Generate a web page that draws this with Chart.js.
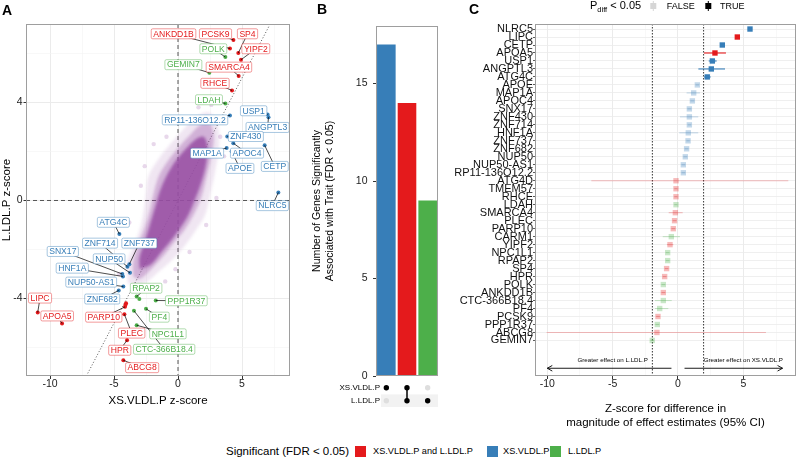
<!DOCTYPE html>
<html lang="en">
<head>
<meta charset="UTF-8">
<title>XS.VLDL.P and L.LDL.P gene associations</title>
<script src="https://cdn.jsdelivr.net/npm/chart.js"></script>
<style>
  body { margin: 0; background: #fff; font-family: 'Liberation Sans', Arial, sans-serif; }
  #fig { position: relative; width: 800px; height: 460px; overflow: hidden; background: #fff; }
  .panel { position: absolute; }
  .tag { position: absolute; font-weight: bold; font-size: 14px; line-height: 14px; color: #000; }
  .legend { position: absolute; left: 0; top: 444px; width: 800px; height: 14px; }
  .legend span { position: absolute; white-space: nowrap; line-height: 14px; color: #000; }
  .legend .key { width: 11px; height: 11px; top: 1.5px; }
</style>
</head>
<body>
<div id="fig">
  <div class="panel" style="left:0;top:0;width:300px;height:440px"><canvas id="chartA"></canvas></div>
  <div class="panel" style="left:300px;top:0;width:140px;height:415px"><canvas id="chartB"></canvas></div>
  <div class="panel" style="left:440px;top:0;width:360px;height:440px"><canvas id="chartC"></canvas></div>
  <div class="tag" style="left:2px;top:3px">A</div>
  <div class="tag" style="left:317px;top:2px">B</div>
  <div class="tag" style="left:469px;top:2px">C</div>
  <div class="legend">
    <span style="left:226px;font-size:11.5px">Significant (FDR &lt; 0.05)</span>
    <span class="key" style="left:355px;background:#E41A1C"></span>
    <span style="left:373px;font-size:9.2px">XS.VLDL.P and L.LDL.P</span>
    <span class="key" style="left:487px;background:#377EB8"></span>
    <span style="left:503px;font-size:9.2px">XS.VLDL.P</span>
    <span class="key" style="left:550px;background:#4DAF4A"></span>
    <span style="left:568px;font-size:9.2px">L.LDL.P</span>
  </div>
</div>

<script>
// ---- panel A: z-scores of the significant genes ----
const genesA = ['ANKDD1B','PCSK9','SP4','YIPF2','POLK','SMARCA4','GEMIN7','RHCE','LDAH','RP11-136O12.2',
  'USP1','ANGPTL3','ZNF430','APOC4','MAP1A','APOE','CETP','NLRC5','ATG4C','ZNF714',
  'ZNF737','SNX17','NUP50','HNF1A','NUP50-AS1','ZNF682','RPAP2','CARM1','PPP1R37','PF4',
  'CTC-366B18.4','NPC1L1','LIPC','APOA5','PARP10','PLEC','TMEM57','ATG4D','HPR','ABCG8'];
const xsZ = [4.06,4.33,4.71,4.92,3.70,4.74,2.45,4.22,3.70,4.06,
  7.00,7.07,3.85,4.32,3.80,4.19,6.77,7.84,-4.58,-3.95,
  -3.80,-4.35,-3.75,-4.30,-4.27,-4.63,-3.23,-3.02,-1.74,-2.50,
  -3.44,-3.23,-10.96,-9.06,-4.14,-4.19,-4.06,-4.10,-3.98,-4.27];
const lZ = [6.20,6.55,6.02,5.74,5.85,5.08,5.21,4.49,3.96,3.47,
  3.51,3.40,2.61,2.34,2.14,2.00,2.25,0.33,-1.37,-2.70,
  -2.60,-3.00,-2.95,-3.10,-3.51,-3.67,-3.92,-4.02,-4.08,-4.42,
  -4.50,-5.09,-4.57,-5.02,-4.34,-4.64,-4.19,-4.25,-5.70,-6.52];
const groupA = ['both','both','both','both','ldl','both','ldl','both','ldl','xs',
  'xs','xs','xs','xs','xs','xs','xs','xs','xs','xs',
  'xs','xs','xs','xs','xs','xs','ldl','ldl','ldl','ldl',
  'ldl','ldl','both','both','both','both','both','both','both','both'];
// where the repelled labels sit (null = no label)
const labelX = [-0.35,2.93,5.43,6.08,2.76,3.98,0.42,2.89,2.42,1.33,
  5.91,7.00,5.30,5.39,2.27,4.84,7.56,7.37,-5.05,-6.09,
  -3.02,-9.00,-5.38,-8.26,-6.78,-5.92,-2.49,null,0.65,-1.46,
  -1.08,-0.79,-10.78,-9.44,-5.80,-3.62,null,null,-4.55,-2.80];
const labelY = [6.80,6.80,6.80,6.19,6.19,5.44,5.54,4.78,4.11,3.29,
  3.66,2.98,2.61,1.93,1.93,1.31,1.39,-0.21,-0.89,-1.74,
  -1.74,-2.08,-2.38,-2.76,-3.33,-4.02,-3.58,null,-4.09,-4.76,
  -6.07,-5.44,-3.98,-4.71,-4.76,-5.41,null,null,-6.11,-6.82];
// background cloud of all other genes, outlined by eye
const cloudOuterX = [-3.9,-4.0,-3.5,-3.0,-2.7,-2.5,-2.3,-1.5,-0.6,0.4,1.4,2.4,3.1,3.2,2.9,2.5,2.1,1.4,0.6,-0.4,-1.5,-2.7];
const cloudOuterY = [-3.4,-2.6,-1.9,-1.2,-0.5,0.3,1.0,1.7,2.3,2.9,3.4,3.6,3.1,2.2,1.2,0.2,-0.6,-1.2,-1.8,-2.4,-2.9,-3.4];
const cloudMidX = [-3.5,-3.5,-3.1,-2.6,-2.2,-1.9,-1.5,-0.8,0.1,1.0,1.8,2.5,2.8,2.6,2.2,1.8,1.2,0.5,-0.3,-1.2,-2.1,-3.0];
const cloudMidY = [-3.1,-2.5,-1.8,-1.1,-0.4,0.3,1.0,1.6,2.2,2.7,3.1,3.1,2.6,1.8,0.9,0.1,-0.6,-1.2,-1.7,-2.3,-2.8,-3.2];
const cloudCoreX = [-3.0,-3.0,-2.6,-2.2,-1.8,-1.4,-0.9,-0.2,0.6,1.4,2.0,2.3,2.2,1.8,1.3,0.8,0.2,-0.5,-1.3,-2.1];
const cloudCoreY = [-2.8,-2.3,-1.7,-1.0,-0.3,0.4,1.0,1.6,2.1,2.5,2.6,2.2,1.5,0.7,0.0,-0.6,-1.1,-1.6,-2.1,-2.6];
const strayX = [-4.3,-3.8,-2.9,-2.6,-1.9,-0.9,0.3,1.6,2.6,3.3,3.0,2.2,0.9,-0.2,-1.0,-3.3,3.6,-4.6];
const strayY = [-2.3,-0.9,0.6,1.4,2.3,2.6,3.3,3.8,3.9,2.6,0.1,-1.0,-2.1,-2.8,-3.3,-3.7,1.8,-3.0];
const xTicksA = [-10,-7.5,-5,-2.5,0,2.5,5,7.5];
const yTicksA = [-6,-4,-2,0,2,4,6];

// ---- panel B: counts per intersection ----
const barNames = ['XS.VLDL.P','XS.VLDL.P and L.LDL.P','L.LDL.P'];
const barCounts = [17,14,9];
const barGroups = ['xs','both','ldl'];
const setNames = ['XS.VLDL.P','L.LDL.P'];
const inXS = [1,1,0];
const inL = [0,1,1];
const yTicksB = [0,5,10,15];

// ---- panel C: z-score for difference ----
const genesC = ['NLRC5','LIPC','CETP','APOA5','USP1','ANGPTL3','ATG4C','APOE','MAP1A','APOC4',
  'SNX17','ZNF430','ZNF714','HNF1A','ZNF737','ZNF682','NUP50','NUP50-AS1','RP11-136O12.2','ATG4D',
  'TMEM57','RHCE','LDAH','SMARCA4','PLEC','PARP10','CARM1','YIPF2','NPC1L1','RPAP2',
  'SP4','HPR','POLK','ANKDD1B','CTC-366B18.4','PF4','PCSK9','PPP1R37','ABCG8','GEMIN7'];
const zDiff = [5.51,4.54,3.39,2.83,2.63,2.55,2.24,1.48,1.20,1.10,
  0.87,0.87,0.87,0.79,0.77,0.66,0.56,0.41,0.41,-0.15,
  -0.15,-0.15,-0.15,-0.20,-0.26,-0.36,-0.51,-0.61,-0.79,-0.79,
  -0.87,-1.02,-1.12,-1.12,-1.12,-1.40,-1.53,-1.58,-1.61,-1.97];
const ciLo = [5.35,4.40,3.25,1.99,2.35,1.56,2.00,1.35,0.66,0.95,
  0.72,0.15,0.75,0.10,0.65,0.52,0.42,0.27,0.27,-6.63,
  -0.28,-0.28,-0.28,-0.71,-0.40,-0.50,-1.17,-0.85,-0.93,-0.93,
  -1.00,-1.16,-1.26,-1.26,-1.76,-1.76,-1.67,-1.72,-10.05,-2.10];
const ciHi = [5.67,4.68,3.53,3.67,2.96,3.60,2.50,1.61,1.68,1.25,
  1.02,1.55,1.00,1.55,0.90,0.80,0.70,0.55,0.55,8.44,
  -0.02,-0.02,-0.02,0.36,-0.12,-0.22,0.15,-0.35,-0.65,-0.65,
  -0.74,-0.88,-0.98,-0.98,-0.48,-0.74,-1.39,-1.44,6.73,-1.84];
const groupC = ['xs','both','xs','both','xs','xs','xs','xs','xs','xs',
  'xs','xs','xs','xs','xs','xs','xs','xs','xs','both',
  'both','both','ldl','both','both','both','ldl','both','ldl','ldl',
  'both','both','ldl','both','ldl','ldl','both','ldl','both','ldl'];
const sigC = genesC.map((g, i) => i < 7);
const xTicksC = [-10,-7.5,-5,-2.5,0,2.5,5,7.5];
const zCrit = 1.96;

const palette = { both: '#E41A1C', xs: '#377EB8', ldl: '#4DAF4A' };
const PURPLE = '#984EA3';
const FONT = "'Liberation Sans', Arial, Helvetica, sans-serif";

function fade(hex, a) {
  const n = parseInt(hex.slice(1), 16);
  return `rgba(${n >> 16},${(n >> 8) & 255},${n & 255},${a})`;
}
const pts = (xs, ys) => xs.map((x, i) => ({ x, y: ys[i] }));
const closed = (xs, ys) => { const p = pts(xs, ys); p.push(p[0]); return p; };

Chart.defaults.font.family = FONT;
Chart.defaults.color = '#222';
Chart.defaults.animation = false;
Chart.defaults.plugins.legend.display = false;
Chart.defaults.plugins.tooltip.enabled = false;

const framePlugin = {
  id: 'frame',
  afterDraw(chart) {
    const { ctx, chartArea: a } = chart;
    ctx.save();
    ctx.strokeStyle = '#9E9E9E';
    ctx.lineWidth = 1;
    ctx.strokeRect(a.left + 0.5, a.top + 0.5, a.right - a.left - 1, a.bottom - a.top - 1);
    ctx.restore();
  }
};

// minor grid lines get no label and no tick mark
function gridFor(isMajor) {
  return {
    color: c => (c.tick && isMajor(c.tick.value)) ? '#EBEBEB' : '#F3F3F3',
    lineWidth: c => (c.tick && isMajor(c.tick.value)) ? 1 : 0.6,
    tickColor: c => (c.tick && isMajor(c.tick.value)) ? '#333' : 'rgba(0,0,0,0)',
    tickLength: 3
  };
}
const major5 = v => v % 5 === 0;
const major4 = v => v % 4 === 0;

// ---------------- A ----------------
const refLinesA = {
  id: 'refLinesA',
  beforeDatasetsDraw(chart) {
    const { ctx, chartArea: a, scales: { x, y } } = chart;
    ctx.save();
    ctx.beginPath(); ctx.rect(a.left, a.top, a.right - a.left, a.bottom - a.top); ctx.clip();
    ctx.strokeStyle = '#555'; ctx.lineWidth = 1;
    ctx.setLineDash([4, 3]);
    ctx.beginPath();
    ctx.moveTo(x.getPixelForValue(0), a.top); ctx.lineTo(x.getPixelForValue(0), a.bottom);
    ctx.moveTo(a.left, y.getPixelForValue(0)); ctx.lineTo(a.right, y.getPixelForValue(0));
    ctx.stroke();
    ctx.setLineDash([1, 2]);
    const lo = Math.max(x.min, y.min), hi = Math.min(x.max, y.max);
    ctx.beginPath();
    ctx.moveTo(x.getPixelForValue(lo), y.getPixelForValue(lo));
    ctx.lineTo(x.getPixelForValue(hi), y.getPixelForValue(hi));
    ctx.stroke();
    ctx.restore();
    // soften the cloud layers (drawn next), switched off before the dots
    ctx.save();
    ctx.filter = 'blur(1.6px)';
  },
  beforeDatasetDraw(chart, args) {
    if (args.index === 1) chart.ctx.restore();
  }
};

const labelsA = {
  id: 'labelsA',
  afterDatasetsDraw(chart) {
    const { ctx, scales: { x, y } } = chart;
    ctx.save();
    ctx.strokeStyle = '#000'; ctx.lineWidth = 0.7;
    genesA.forEach((g, i) => {
      if (labelX[i] === null) return;
      ctx.beginPath();
      ctx.moveTo(x.getPixelForValue(xsZ[i]), y.getPixelForValue(lZ[i]));
      ctx.lineTo(x.getPixelForValue(labelX[i]), y.getPixelForValue(labelY[i]));
      ctx.stroke();
    });
    ctx.font = '8.6px ' + FONT;
    ctx.textAlign = 'center'; ctx.textBaseline = 'middle';
    genesA.forEach((g, i) => {
      if (labelX[i] === null) return;
      const col = palette[groupA[i]];
      const lx = x.getPixelForValue(labelX[i]), ly = y.getPixelForValue(labelY[i]);
      const w = ctx.measureText(g).width + 4, h = 10;
      ctx.beginPath();
      ctx.roundRect(lx - w / 2, ly - h / 2, w, h, 1.5);
      ctx.fillStyle = '#fff'; ctx.fill();
      ctx.strokeStyle = fade(col, 0.55); ctx.lineWidth = 0.8; ctx.stroke();
      ctx.fillStyle = col;
      ctx.fillText(g, lx, ly + 0.4);
    });
    ctx.restore();
  }
};

const cloudSet = (xs, ys, alpha) => ({
  type: 'line', data: closed(xs, ys), fill: 'shape', tension: 0.35,
  backgroundColor: fade(PURPLE, alpha), borderColor: 'rgba(0,0,0,0)', borderWidth: 0, pointRadius: 0
});

new Chart(document.getElementById('chartA'), {
  type: 'scatter',
  data: {
    datasets: [
      { data: pts(xsZ, lZ), pointRadius: 2, pointBorderWidth: 0,
        pointBackgroundColor: groupA.map(g => palette[g]) },
      { data: pts(strayX, strayY), pointRadius: 2.2, pointBorderWidth: 0,
        pointBackgroundColor: fade(PURPLE, 0.22) },
      cloudSet(cloudCoreX, cloudCoreY, 0.85),
      cloudSet(cloudMidX, cloudMidY, 0.35),
      cloudSet(cloudOuterX, cloudOuterY, 0.14)
    ]
  },
  options: {
    responsive: true, maintainAspectRatio: false,
    layout: { padding: { left: 0, top: 24, right: 10, bottom: 0 } },
    scales: {
      x: {
        type: 'linear', min: -11.875, max: 8.75,
        afterBuildTicks: s => { s.ticks = xTicksA.map(v => ({ value: v })); },
        afterFit: s => { s.height = 64; },
        ticks: { autoSkip: false, maxRotation: 0, padding: 0, color: '#222',
          font: { size: 10.5, lineHeight: 1 }, callback: v => major5(v) ? String(v) : '' },
        grid: gridFor(major5),
        border: { display: false },
        title: { display: true, text: 'XS.VLDL.P z-score', color: '#000',
          font: { size: 11.5, lineHeight: 1.2 }, padding: { top: 0, bottom: 32 } }
      },
      y: {
        type: 'linear', min: -7.16, max: 7.2,
        afterBuildTicks: s => { s.ticks = yTicksA.map(v => ({ value: v })); },
        afterFit: s => { s.width = 26; },
        ticks: { autoSkip: false, padding: 1, color: '#222',
          font: { size: 10.5, lineHeight: 1 }, callback: v => major4(v) ? String(v) : '' },
        grid: Object.assign(gridFor(major4), { tickLength: 2.5 }),
        border: { display: false },
        title: { display: true, text: 'L.LDL.P z-score', color: '#000',
          font: { size: 11.5, lineHeight: 1.2 }, padding: { top: 0, bottom: 0 } }
      }
    }
  },
  plugins: [refLinesA, labelsA, framePlugin]
});

// ---------------- B ----------------
const matrixB = {
  id: 'matrixB',
  afterDraw(chart) {
    const { ctx, chartArea: a, scales: { x } } = chart;
    const rowY = [387.7, 400.7];
    ctx.save();
    ctx.fillStyle = '#F2F2F2';
    ctx.fillRect(81, rowY[1] - 6.3, a.right - 81, 12.6);
    ctx.font = '8px ' + FONT;
    ctx.textAlign = 'right'; ctx.textBaseline = 'middle'; ctx.fillStyle = '#000';
    setNames.forEach((n, r) => ctx.fillText(n, 80, rowY[r]));
    barCounts.forEach((c, i) => {
      const cx = x.getPixelForValue(i);
      const member = [inXS[i], inL[i]];
      if (member[0] && member[1]) {
        ctx.strokeStyle = '#000'; ctx.lineWidth = 1.5;
        ctx.beginPath(); ctx.moveTo(cx, rowY[0]); ctx.lineTo(cx, rowY[1]); ctx.stroke();
      }
      member.forEach((m, r) => {
        ctx.beginPath(); ctx.arc(cx, rowY[r], 2.7, 0, Math.PI * 2);
        ctx.fillStyle = m ? '#000' : '#DEDEDE'; ctx.fill();
      });
    });
    ctx.restore();
  }
};

new Chart(document.getElementById('chartB'), {
  type: 'bar',
  data: {
    labels: barNames,
    datasets: [{ data: barCounts, backgroundColor: barGroups.map(g => palette[g]),
      barPercentage: 0.9, categoryPercentage: 1 }]
  },
  options: {
    responsive: true, maintainAspectRatio: false,
    layout: { padding: { left: 0, top: 26, right: 2, bottom: 39 } },
    scales: {
      x: { display: false },
      y: {
        min: 0, max: 17.95,
        afterBuildTicks: s => { s.ticks = yTicksB.map(v => ({ value: v })); },
        afterFit: s => { s.width = 76; },
        ticks: { padding: 5.5, color: '#222', font: { size: 10.5, lineHeight: 1 } },
        grid: { drawOnChartArea: false, tickLength: 3, tickColor: '#333' },
        border: { display: false },
        title: { display: true, color: '#000',
          text: ['Number of Genes Significantly', 'Associated with Trait (FDR < 0.05)'],
          font: { size: 10.5, lineHeight: 1.27 }, padding: { top: 10, bottom: 0 } }
      }
    }
  },
  plugins: [matrixB, framePlugin]
});

// ---------------- C ----------------
const ciC = {
  id: 'ciC',
  beforeDatasetsDraw(chart) {
    const { ctx, chartArea: a, scales: { x, y } } = chart;
    ctx.save();
    ctx.strokeStyle = '#000'; ctx.lineWidth = 0.8; ctx.setLineDash([1.5, 1.5]);
    [-zCrit, zCrit].forEach(v => {
      ctx.beginPath();
      ctx.moveTo(x.getPixelForValue(v), a.top); ctx.lineTo(x.getPixelForValue(v), a.bottom);
      ctx.stroke();
    });
    ctx.setLineDash([]);
    ctx.lineWidth = 1.1;
    genesC.forEach((g, i) => {
      const col = palette[groupC[i]];
      const yy = y.getPixelForValue(i);
      ctx.strokeStyle = sigC[i] ? col : fade(col, 0.28);
      ctx.beginPath();
      ctx.moveTo(x.getPixelForValue(ciLo[i]), yy); ctx.lineTo(x.getPixelForValue(ciHi[i]), yy);
      ctx.stroke();
    });
    ctx.restore();
  },
  afterDatasetsDraw(chart) {
    const { ctx, scales: { x, y } } = chart;
    const arrows = [[-0.5, -10], [0.5, 8]];
    const notes = ['Greater effect on L.LDL.P', 'Greater effect on XS.VLDL.P'];
    ctx.save();
    ctx.strokeStyle = '#000'; ctx.lineWidth = 0.9;
    const ay = y.getPixelForValue(42.48);
    arrows.forEach(([from, to], k) => {
      const x0 = x.getPixelForValue(from), x1 = x.getPixelForValue(to);
      const d = x1 > x0 ? -1 : 1;
      ctx.beginPath();
      ctx.moveTo(x0, ay); ctx.lineTo(x1, ay);
      ctx.moveTo(x1 + d * 5, ay - 2.8); ctx.lineTo(x1, ay); ctx.lineTo(x1 + d * 5, ay + 2.8);
      ctx.stroke();
      ctx.font = '6.2px ' + FONT; ctx.fillStyle = '#000';
      ctx.textAlign = 'center'; ctx.textBaseline = 'middle';
      ctx.fillText(notes[k], x.getPixelForValue(k === 0 ? -5 : 5), y.getPixelForValue(41.48));
    });
    ctx.restore();
  },
  afterDraw(chart) {
    const { ctx } = chart;
    ctx.save();
    ctx.fillStyle = '#000'; ctx.textBaseline = 'middle'; ctx.textAlign = 'left';
    let xx = 150;
    ctx.font = '11px ' + FONT; ctx.fillText('P', xx, 6); xx += ctx.measureText('P').width;
    ctx.font = '7.5px ' + FONT; ctx.fillText('diff', xx, 9.5); xx += ctx.measureText('diff').width;
    ctx.font = '11px ' + FONT; ctx.fillText(' < 0.05', xx, 6);
    const key = (cx, col) => {
      ctx.strokeStyle = col; ctx.lineWidth = 1;
      ctx.beginPath(); ctx.moveTo(cx, 1); ctx.lineTo(cx, 11); ctx.stroke();
      ctx.fillStyle = col; ctx.fillRect(cx - 3, 3, 6, 6);
    };
    key(213.3, '#D6D6D6');
    key(268.3, '#000');
    ctx.font = '9px ' + FONT; ctx.fillStyle = '#000';
    ctx.fillText('FALSE', 226.7, 6.5);
    ctx.fillText('TRUE', 280, 6.5);
    ctx.restore();
  }
};

new Chart(document.getElementById('chartC'), {
  type: 'scatter',
  data: {
    datasets: [{
      data: zDiff.map((z, i) => ({ x: z, y: i })),
      pointStyle: 'rect', pointRadius: 3.8, pointBorderWidth: 0,
      pointBackgroundColor: genesC.map((g, i) => sigC[i] ? palette[groupC[i]] : fade(palette[groupC[i]], 0.3))
    }]
  },
  options: {
    responsive: true, maintainAspectRatio: false,
    layout: { padding: { left: 0, top: 24, right: 4, bottom: 0 } },
    scales: {
      x: {
        type: 'linear', min: -10.94, max: 9.03,
        afterBuildTicks: s => { s.ticks = xTicksC.map(v => ({ value: v })); },
        afterFit: s => { s.height = 64; },
        ticks: { autoSkip: false, maxRotation: 0, padding: 0, color: '#222',
          font: { size: 10.5, lineHeight: 1 }, callback: v => major5(v) ? String(v) : '' },
        grid: gridFor(major5),
        border: { display: false },
        title: { display: true, color: '#000',
          text: ['Z-score for difference in', 'magnitude of effect estimates (95% CI)'],
          font: { size: 11.5, lineHeight: 1.157 }, padding: { top: 0, bottom: 11 } }
      },
      y: {
        type: 'linear', min: -0.63, max: 43.45, reverse: true,
        afterBuildTicks: s => { s.ticks = genesC.map((g, i) => ({ value: i })); },
        afterFit: s => { s.width = 95; },
        ticks: { autoSkip: false, padding: 0, color: '#111',
          font: { size: 11, lineHeight: 1 }, callback: v => genesC[v] },
        grid: { color: '#EBEBEB', lineWidth: 0.8, tickLength: 2, tickColor: '#333' },
        border: { display: false }
      }
    }
  },
  plugins: [ciC, framePlugin]
});
</script>
</body>
</html>
